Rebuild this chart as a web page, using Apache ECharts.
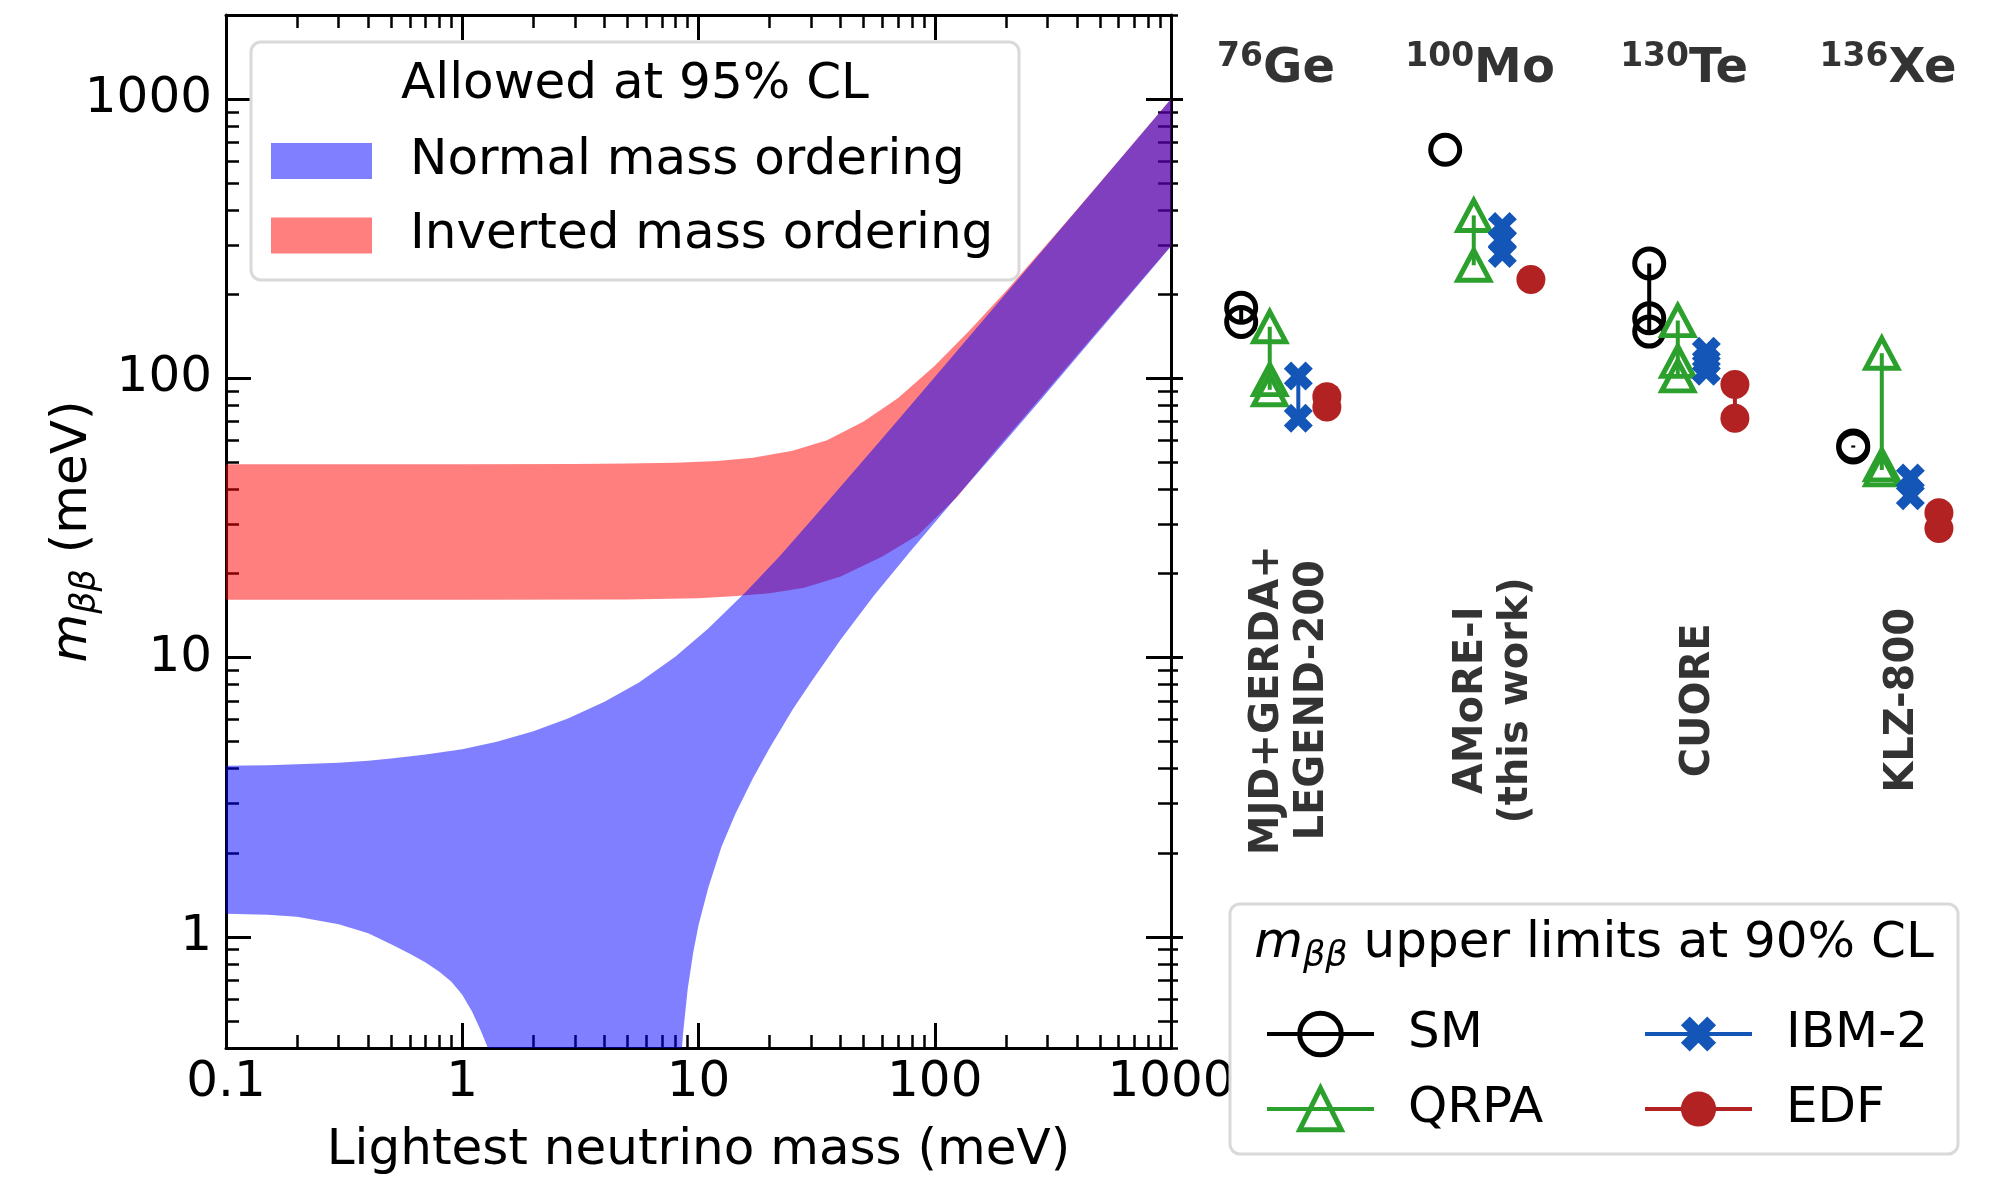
<!DOCTYPE html>
<html><head><meta charset="utf-8">
<script src="https://cdn.jsdelivr.net/npm/echarts@6/dist/echarts.min.js"></script>
<style>html,body{margin:0;padding:0;background:#fff}#c{width:2014px;height:1181px}</style>
</head><body><div id="c"></div><script>
const FONT = 'DejaVu Sans';

// ---------------- data ----------------
// Normal mass ordering band (allowed at 95% CL), m_bb in meV vs lightest mass in meV
const noUpperX = [0.1, 0.15, 0.2, 0.3, 0.4, 0.5, 0.7, 1, 1.4, 2, 2.8, 4, 5.6, 8, 11, 16, 22, 32, 45, 63, 90, 130, 180, 250, 350, 500, 700, 1000];
const noUpperY = [4.1, 4.12, 4.15, 4.2, 4.27, 4.35, 4.5, 4.7, 5.0, 5.45, 6.05, 6.95, 8.15, 10.1, 12.7, 17.3, 23, 33, 46, 64, 91, 131, 181, 251, 351, 501, 701, 1000];
const noLowerX = [0.1, 0.15, 0.2, 0.3, 0.4, 0.5, 0.6, 0.7, 0.8, 0.9, 1.0, 1.1, 1.2, 1.3, 1.4, 1.5, 1.65, 1.8, 2.0, 2.2, 7.0, 7.6, 8.0, 8.3, 8.6, 9.0, 9.5, 10, 11, 12.5, 14.3, 17, 20, 25, 30, 40, 55, 80, 120, 180, 280, 450, 700, 1000];
const noLowerY = [1.21, 1.2, 1.18, 1.11, 1.03, 0.94, 0.87, 0.81, 0.75, 0.69, 0.62, 0.54, 0.46, 0.39, 0.32, 0.26, 0.18, 0.1, 0.04, 0.005, 0.005, 0.05, 0.15, 0.3, 0.45, 0.65, 0.88, 1.1, 1.5, 2.1, 2.75, 3.7, 4.75, 6.5, 8.2, 11.6, 16.6, 24.4, 36.5, 54, 83.5, 134, 208, 297];
// Inverted mass ordering band
const ioUpperX = [0.1, 1, 3, 5, 8, 12, 17, 25, 35, 50, 70, 100, 140, 200, 280, 400, 600, 1000];
const ioUpperY = [49.2, 49.2, 49.3, 49.5, 49.9, 50.6, 52, 55, 60, 70, 85, 111, 148, 205, 284, 402, 601, 1000];
const ioLowerX = [0.1, 1, 5, 10, 14, 20, 28, 40, 60, 85, 124, 180, 280, 450, 700, 1000];
const ioLowerY = [16.1, 16.1, 16.15, 16.3, 16.6, 17.0, 17.8, 19.5, 23, 27.5, 37.5, 55, 85, 136, 210, 298];

// Right panel: nuclei / experiments / m_bb upper limits (meV)
const nucleusMass = ['76', '100', '130', '136'];
const nucleusSymbol = ['Ge', 'Mo', 'Te', 'Xe'];
const experiments = ['MJD+GERDA+\nLEGEND-200', 'AMoRE-I\n(this work)', 'CUORE', 'KLZ-800'];
const modelNames = ['SM', 'QRPA', 'IBM-2', 'EDF'];
const smValues   = [[179, 159], [659], [258, 164, 147], [57.5, 56.5]];
const qrpaValues = [[153, 99, 91], [383, 254], [161, 115, 102], [123, 49, 47]];
const ibmValues  = [[102, 72], [350, 312, 280], [125, 115, 106], [44, 38]];
const edfValues  = [[86, 79], [226], [95, 72], [33, 29]];

// tick labels
const xMajor = [0.1, 1, 10, 100, 1000];
const yMajor = [1, 10, 100, 1000];

// ---------------- helpers ----------------
const xMinor = [];
for (const d of [0.1, 1, 10, 100]) for (let k = 2; k <= 9; k++) xMinor.push(+(k * d).toPrecision(3));
const yMinor = [];
for (const d of [0.1, 1, 10, 100, 1000]) for (let k = 2; k <= 9; k++) {
  const v = +(k * d).toPrecision(3); if (v >= 0.4 && v <= 2000) yMinor.push(v);
}
const X_MIN = 0.1, X_MAX = 1000, Y_MIN = 0.4, Y_MAX = 2000;
const fmt = v => String(+(+v).toPrecision(6));

const lineSt = { color: '#000', width: 3 };
function logAxis(kind, gridIndex, position, isMajor, tickLen, showLine, extra) {
  const o = {
    type: 'log', logBase: 10, gridIndex: gridIndex, position: position,
    min: kind === 'x' ? X_MIN : Y_MIN, max: kind === 'x' ? X_MAX : Y_MAX,
    splitLine: { show: false }, minorTick: { show: false }, minorSplitLine: { show: false },
    axisLine: { show: showLine, onZero: false, lineStyle: lineSt },
    axisTick: { show: true, inside: true, length: tickLen, lineStyle: { color: '#000', width: isMajor ? 3 : 2.5 },
      customValues: isMajor ? (kind === 'x' ? xMajor : yMajor) : (kind === 'x' ? xMinor : yMinor) },
    axisLabel: { show: false },
    axisPointer: { show: false }
  };
  return Object.assign(o, extra || {});
}

const xAxes = [
  logAxis('x', 0, 'bottom', true, 25, true, {
    axisLabel: { show: true, customValues: xMajor, formatter: fmt, fontSize: 50, color: '#000', fontFamily: FONT, margin: 10 },
    name: 'Lightest neutrino mass (meV)', nameLocation: 'middle', nameGap: 73, nameMoveOverlap: false,
    nameTextStyle: { fontSize: 50, color: '#000', fontFamily: FONT, lineHeight: 60 }
  }),
  logAxis('x', 0, 'bottom', false, 13, false),
  logAxis('x', 0, 'top', true, 25, true),
  logAxis('x', 0, 'top', false, 13, false),
  { type: 'value', gridIndex: 1, min: -0.554, max: 3.578, show: false }
];
const yAxes = [
  logAxis('y', 0, 'left', true, 25, true, {
    axisLabel: { show: true, customValues: yMajor, formatter: fmt, fontSize: 50, color: '#000', fontFamily: FONT, margin: 14 },
    name: '{i|m}{s|ββ} (meV)', nameLocation: 'middle', nameRotate: 90, nameGap: 123, nameMoveOverlap: false,
    nameTextStyle: { fontSize: 50, color: '#000', fontFamily: FONT, lineHeight: 60,
      rich: { i: { fontSize: 50, fontStyle: 'italic', fontFamily: FONT, lineHeight: 60 },
              s: { fontSize: 35, fontStyle: 'italic', fontFamily: FONT, lineHeight: 16, verticalAlign: 'bottom' } } }
  }),
  logAxis('y', 0, 'left', false, 13, false),
  logAxis('y', 0, 'right', true, 25, true),
  logAxis('y', 0, 'right', false, 13, false),
  logAxis('y', 1, 'left', true, 12, false),
  logAxis('y', 1, 'left', false, 7, false)
];

function bandRender(ux, uy, lx, ly, fill) {
  return function (params, api) {
    const pts = [];
    for (let i = 0; i < ux.length; i++) pts.push(api.coord([ux[i], uy[i]]));
    for (let i = lx.length - 1; i >= 0; i--) pts.push(api.coord([lx[i], ly[i]]));
    const cs = params.coordSys;
    return {
      type: 'group',
      clipPath: { type: 'rect', shape: { x: cs.x, y: cs.y, width: cs.width, height: cs.height } },
      children: [{ type: 'polygon', shape: { points: pts }, style: { fill: fill } }]
    };
  };
}

const RED_FILL = 'rgba(255,0,0,0.5)';
const BLUE_FILL = 'rgba(0,0,255,0.5)';

const series = [
  { name: 'Inverted mass ordering', type: 'custom', coordinateSystem: 'cartesian2d', xAxisIndex: 0, yAxisIndex: 0,
    data: [[1, 10]], renderItem: bandRender(ioUpperX, ioUpperY, ioLowerX, ioLowerY, RED_FILL),
    itemStyle: { color: RED_FILL }, silent: true, z: 1 },
  { name: 'Normal mass ordering', type: 'custom', coordinateSystem: 'cartesian2d', xAxisIndex: 0, yAxisIndex: 0,
    data: [[1, 10]], renderItem: bandRender(noUpperX, noUpperY, noLowerX, noLowerY, BLUE_FILL),
    itemStyle: { color: BLUE_FILL }, silent: true, z: 1 }
];

const modelValues = [smValues, qrpaValues, ibmValues, edfValues];
const modelColors = ['#000000', '#2ca02c', '#1456b8', '#b22222'];
const modelOffset = [-0.21, -0.07, 0.07, 0.21];
const X_PATH = 'path://M212 0L283 71L212 141L283 212L212 283L141 212L71 283L0 212L71 141L0 71L71 0L141 71Z';
const modelSymbol = ['circle', 'triangle', X_PATH, 'circle'];
const modelSymbolSize = [29, [32, 30], 29, 29];
const modelHollow = [true, true, false, false];

for (let m = 0; m < modelNames.length; m++) {
  for (let n = 0; n < nucleusSymbol.length; n++) {
    series.push({
      name: modelNames[m], type: 'line', xAxisIndex: 4, yAxisIndex: 4,
      data: modelValues[m][n].map(v => [n + modelOffset[m], v]),
      symbol: modelSymbol[m], symbolSize: modelSymbolSize[m], symbolKeepAspect: true, showSymbol: true,
      lineStyle: { color: modelColors[m], width: 4 },
      itemStyle: modelHollow[m]
        ? { color: 'rgba(255,255,255,0)', borderColor: modelColors[m], borderWidth: 5 }
        : { color: modelColors[m], borderWidth: 0 },
      silent: true, z: 3 + m
    });
  }
}

// nucleus headers and experiment names placed through the right panel scales
const HEADER_Y = 1275, EXP_Y = 7.03, EXP_SHIFT = 0.03;
series.push({
  name: 'headers', type: 'scatter', xAxisIndex: 4, yAxisIndex: 4, symbolSize: 1,
  itemStyle: { color: 'rgba(0,0,0,0)' }, silent: true,
  data: nucleusSymbol.map((s, i) => [i, HEADER_Y]),
  label: { show: true, position: 'inside', offset: [-8, 0],
    formatter: p => '{sup|' + nucleusMass[p.dataIndex] + '}{big|' + nucleusSymbol[p.dataIndex] + '}',
    rich: {
      sup: { fontSize: 33, fontWeight: 'bold', fontFamily: FONT, color: '#000', lineHeight: 30, verticalAlign: 'top' },
      big: { fontSize: 48, fontWeight: 'bold', fontFamily: FONT, color: '#000', lineHeight: 58 }
    } }
});
series.push({
  name: 'experiments', type: 'scatter', xAxisIndex: 4, yAxisIndex: 4, symbolSize: 1,
  itemStyle: { color: 'rgba(0,0,0,0)' }, silent: true,
  data: experiments.map((s, i) => [i + EXP_SHIFT, EXP_Y]),
  label: { show: true, position: 'inside', rotate: 90, align: 'center', verticalAlign: 'middle',
    formatter: p => experiments[p.dataIndex],
    fontSize: 40, fontWeight: 'bold', fontFamily: FONT, color: '#000', lineHeight: 45 }
});

const legendText = { fontSize: 50, fontFamily: FONT, color: '#000', lineHeight: 56 };
const option = {
  animation: false,
  textStyle: { fontFamily: FONT },
  grid: [
    { left: 226, top: 15, width: 945, height: 1033, outerBoundsMode: 'none', containLabel: false },
    { left: 1171, top: 15, width: 843, height: 1033, outerBoundsMode: 'none', containLabel: false }
  ],
  xAxis: xAxes,
  yAxis: yAxes,
  legend: [
    { data: ['Normal mass ordering', 'Inverted mass ordering'], orient: 'vertical', left: 266, top: 128,
      itemWidth: 101, itemHeight: 36, itemGap: 18.5, icon: 'rect', selectedMode: false, z: 10,
      textStyle: Object.assign({ padding: [0, 0, 0, 33] }, legendText) },
    { data: ['SM', 'QRPA'], orient: 'vertical', left: 1260, top: 1001,
      itemWidth: 107, itemHeight: 52, itemGap: 19, selectedMode: false, z: 10,
      lineStyle: { width: 4 }, itemStyle: { borderWidth: 5 },
      textStyle: Object.assign({ padding: [0, 0, 0, 29] }, legendText) },
    { data: ['IBM-2', 'EDF'], orient: 'vertical', left: 1638, top: 1001,
      itemWidth: 107, itemHeight: 44, itemGap: 19, selectedMode: false, z: 10,
      lineStyle: { width: 4 },
      textStyle: Object.assign({ padding: [0, 0, 0, 29] }, legendText) }
  ],
  graphic: [
    { type: 'rect', z: 8, shape: { x: 251, y: 42, width: 768, height: 238, r: 10 },
      style: { fill: 'rgba(255,255,255,0.8)', stroke: '#d9d9d9', lineWidth: 3 } },
    { type: 'text', z: 9, x: 635, y: 85,
      style: { text: 'Allowed at 95% CL', fontSize: 50, fontFamily: FONT, fill: '#000', align: 'center', verticalAlign: 'middle' } },
    { type: 'rect', z: 8, shape: { x: 1230, y: 904, width: 728, height: 250, r: 10 },
      style: { fill: 'rgba(255,255,255,0.8)', stroke: '#d9d9d9', lineWidth: 3 } },
    { type: 'text', z: 9, x: 1594, y: 944,
      style: { text: '{i|m}{s|ββ} upper limits at 90% CL', fontSize: 50, fontFamily: FONT, fill: '#000',
        align: 'center', verticalAlign: 'middle', lineHeight: 60,
        rich: { i: { fontSize: 50, fontStyle: 'italic', fontFamily: FONT, lineHeight: 60 },
                s: { fontSize: 35, fontStyle: 'italic', fontFamily: FONT, lineHeight: 16, verticalAlign: 'bottom' } } } }
  ],
  series: series
};

const chart = echarts.init(document.getElementById('c'), null, { renderer: 'canvas', width: 2014, height: 1181 });
chart.setOption(option);
</script></body></html>
